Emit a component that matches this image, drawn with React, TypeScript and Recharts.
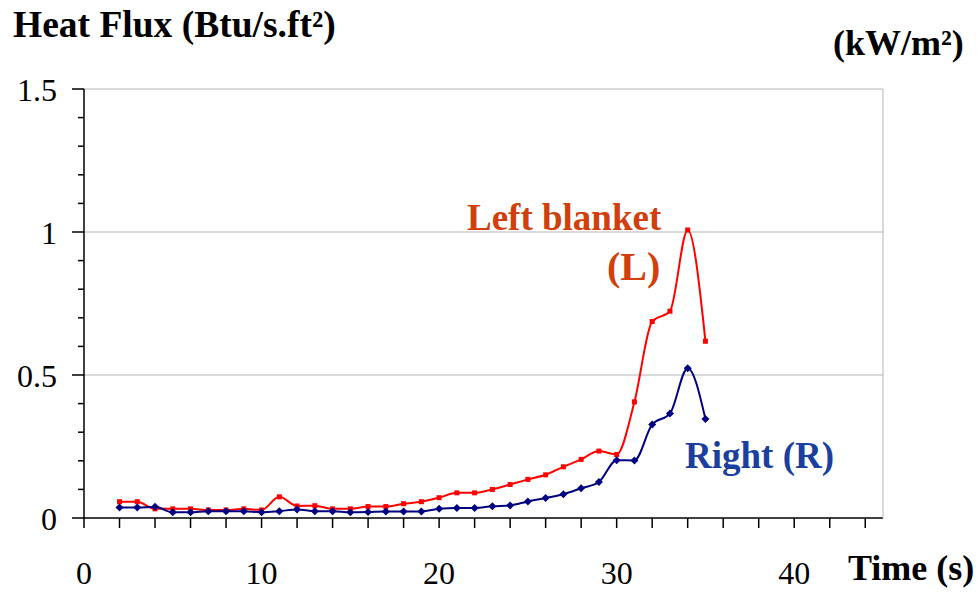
import { Line, LineChart, ReferenceLine, XAxis, YAxis } from "recharts"

// Time (s) and heat flux (Btu/s.ft2)
const times = [2, 3, 4, 5, 6, 7, 8, 9, 10, 11, 12, 13, 14, 15, 16, 17, 18, 19, 20, 21, 22, 23, 24, 25, 26, 27, 28, 29, 30, 31, 32, 33, 34, 35]
const leftBlanket = [0.057, 0.057, 0.032, 0.032, 0.032, 0.028, 0.028, 0.032, 0.028, 0.074, 0.042, 0.043, 0.032, 0.032, 0.04, 0.04, 0.05, 0.057, 0.071, 0.088, 0.088, 0.1, 0.117, 0.135, 0.151, 0.179, 0.205, 0.234, 0.222, 0.406, 0.687, 0.723, 1.007, 0.618]
const rightBlanket = [0.037, 0.037, 0.039, 0.02, 0.02, 0.024, 0.024, 0.024, 0.02, 0.024, 0.03, 0.024, 0.024, 0.02, 0.021, 0.023, 0.023, 0.023, 0.032, 0.035, 0.035, 0.041, 0.044, 0.058, 0.07, 0.083, 0.104, 0.126, 0.202, 0.201, 0.327, 0.365, 0.524, 0.346]

const xTicks = [0, 2, 4, 6, 8, 10, 12, 14, 16, 18, 20, 22, 24, 26, 28, 30, 32, 34, 36, 38, 40, 42, 44]
const xLabels = [0, 10, 20, 30, 40]
const leftTicks = [0, 0.1, 0.2, 0.3, 0.4, 0.5, 0.6, 0.7, 0.8, 0.9, 1, 1.1, 1.2, 1.3, 1.4, 1.5]
const leftLabels = ["0", "0.5", "1", "1.5"]
const rightTicks = [0, 0.5, 1, 1.5]
const rightLabels = ["0", "5.8", "11.5", "17.3"]
const gridValues = [0.5, 1, 1.5]

const data = times.map((t, i) => ({ t, left: leftBlanket[i], right: rightBlanket[i] }))

const serif = "Liberation Serif"

const XTick = ({ x, y, payload }: any) => {
  const v = payload.value
  return (
    <g>
      <line x1={x} x2={x} y1={y} y2={y + 10} stroke="#000" strokeWidth={1.5} />
      {xLabels.includes(v) && (
        <text x={x} y={y + 66} textAnchor="middle" style={{ fontSize: 32, fontFamily: serif }} fill="#000">
          {v}
        </text>
      )}
    </g>
  )
}

const LeftTick = ({ x, y, payload }: any) => {
  const v = payload.value
  const idx = Math.round(v * 2)
  const major = Math.abs(v * 2 - idx) < 1e-6
  return (
    <g>
      <line x1={x - (major ? 12 : 6)} x2={x} y1={y} y2={y} stroke="#000" strokeWidth={1.5} />
      {major && (
        <text x={57} y={y + 12} textAnchor="end" style={{ fontSize: 32, fontFamily: serif }} fill="#000">
          {leftLabels[idx]}
        </text>
      )}
    </g>
  )
}

const RightTick = ({ y, payload }: any) => {
  const idx = rightTicks.indexOf(payload.value)
  return (
    <text x={924} y={y + 12} textAnchor="middle" style={{ fontSize: 32, fontFamily: serif }} fill="#000">
      {rightLabels[idx]}
    </text>
  )
}

const SquareDot = ({ cx, cy }: any) => (
  <rect x={cx - 2.5} y={cy - 2.5} width={5} height={5} fill="#FF0000" />
)

const DiamondDot = ({ cx, cy }: any) => (
  <path d={`M${cx},${cy - 4} L${cx + 4},${cy} L${cx},${cy + 4} L${cx - 4},${cy} Z`} fill="#000080" />
)

const bold = { fontFamily: serif, fontWeight: "bold" as const }

export default function App() {
  return (
    <div style={{ position: "absolute", left: 0, top: 0, width: 977, height: 592, background: "#fff" }}>
      <LineChart
        width={977}
        height={592}
        data={data}
        margin={{ top: 89, right: 0, bottom: 0, left: 0 }}
      >
        <XAxis
          dataKey="t"
          type="number"
          domain={[0, 45]}
          ticks={xTicks}
          height={74}
          tickSize={0}
          tickMargin={0}
          tickLine={false}
          tick={<XTick />}
          axisLine={{ stroke: "#000", strokeWidth: 1.5 }}
          interval={0}
        />
        <YAxis
          yAxisId="left"
          type="number"
          domain={[0, 1.5]}
          ticks={leftTicks}
          width={84}
          tickSize={0}
          tickMargin={0}
          tickLine={false}
          tick={<LeftTick />}
          axisLine={{ stroke: "#000", strokeWidth: 1.5 }}
          interval={0}
        />
        <YAxis
          yAxisId="right"
          orientation="right"
          type="number"
          domain={[0, 1.5]}
          ticks={rightTicks}
          width={94}
          tickSize={0}
          tickMargin={0}
          tickLine={false}
          tick={<RightTick />}
          axisLine={{ stroke: "#b4b4b4", strokeWidth: 1 }}
          interval={0}
        />
        {gridValues.map((g) => (
          <ReferenceLine key={g} yAxisId="left" y={g} stroke="#b4b4b4" strokeWidth={1} />
        ))}
        <Line
          yAxisId="left"
          type="monotone"
          dataKey="left"
          stroke="#FF0000"
          strokeWidth={2}
          dot={<SquareDot />}
          isAnimationActive={false}
        />
        <Line
          yAxisId="left"
          type="monotone"
          dataKey="right"
          stroke="#000080"
          strokeWidth={2}
          dot={<DiamondDot />}
          isAnimationActive={false}
        />
      </LineChart>
      <svg
        width={977}
        height={592}
        style={{ position: "absolute", left: 0, top: 0, pointerEvents: "none" }}
      >
        <text x={13} y={37} style={{ ...bold, fontSize: 37.5 }} fill="#000">Heat Flux (Btu/s.ft²)</text>
        <text x={833} y={55} style={{ ...bold, fontSize: 36 }} fill="#000">(kW/m²)</text>
        <text x={848} y={580} style={{ ...bold, fontSize: 36 }} fill="#000">Time (s)</text>
        <text x={467} y={230} style={{ ...bold, fontSize: 37 }} fill="#D0400C">Left blanket</text>
        <text x={607} y={280} style={{ ...bold, fontSize: 40 }} fill="#D0400C">(L)</text>
        <text x={685} y={468} style={{ ...bold, fontSize: 37 }} fill="#1B3F9E">Right (R)</text>
      </svg>
    </div>
  )
}
